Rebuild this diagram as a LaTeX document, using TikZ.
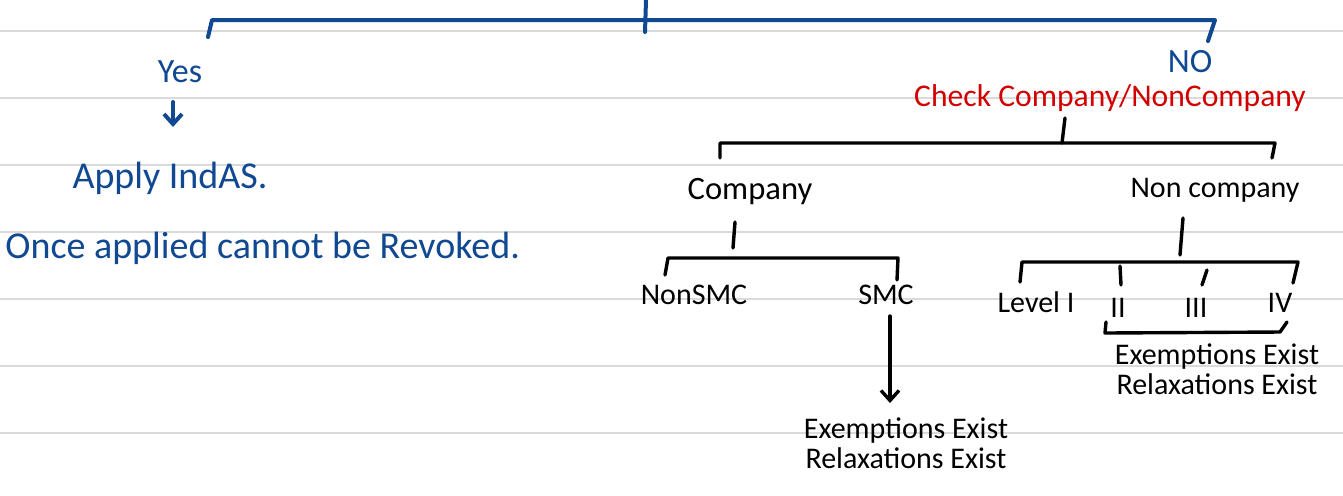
\documentclass[tikz,border=0pt]{standalone}
\usepackage{fontspec}
\setmainfont{Carlito}
\usetikzlibrary{arrows.meta}
\definecolor{inkblue}{RGB}{16,72,145}
\definecolor{inkred}{RGB}{210,0,0}
\definecolor{rulegray}{RGB}{218,218,218}
\begin{document}
\begin{tikzpicture}[x=0.5pt,y=-0.5pt,
  bluepen/.style={draw=inkblue,line width=2pt,line cap=round,line join=round},
  blackpen/.style={draw=black,line width=1.7pt,line cap=round,line join=round},
  bluetxt/.style={text=inkblue,inner sep=0pt,font=\fontsize{17}{19}\selectfont},
  bigblue/.style={text=inkblue,inner sep=0pt,font=\fontsize{19}{21}\selectfont},
  blacktxt/.style={text=black,inner sep=0pt,font=\fontsize{15}{17}\selectfont},
  redtxt/.style={text=inkred,inner sep=0pt,font=\fontsize{15.8}{18}\selectfont},
  smalltxt/.style={text=black,inner sep=0pt,font=\fontsize{15}{15}\selectfont,align=center},
  tip/.style={-{Straight Barb[length=5pt,width=9pt]}}]
\useasboundingbox (0,0) rectangle (1343,495);
\fill[white] (0,0) rectangle (1343,495);
\foreach \y in {31,98,165,232,299,366,433}
  \draw[rulegray,line width=0.7pt] (0,\y) -- (1343,\y);

% top blue bracket
\coordinate (topmid) at (646,0);
\coordinate (tl) at (212,20);
\coordinate (tr) at (1215,20);
\draw[bluepen] (208,37) -- (tl) -- (tr) -- (1208,41);
\draw[bluepen] (topmid) -- (645,32);

% Yes branch
\node[bluetxt] (yes) at (180,72) {Yes};
\node[bigblue] (apply) at (170,178) {Apply IndAS.};
\node[bigblue,anchor=west] (once) at (5,248) {Once applied cannot be Revoked.};
\draw[bluepen,tip] (173,102) -- (173,127);

% No branch
\node[bluetxt] (no) at (1190,62) {NO};
\node[redtxt] (check) at (1110,98) {Check Company/NonCompany};

% company bracket
\coordinate (cstem) at (1065,118);
\draw[blackpen] (cstem) -- (1062,143);
\draw[blackpen] (720,158) -- (720,143) -- (1275,143) -- (1272,158);

\node[blacktxt,font=\fontsize{16.3}{18}\selectfont] (company) at (750,192) {Company};
\node[blacktxt] (noncompany) at (1215,190) {Non company};

% company split
\draw[blackpen] (735,222) -- (733,248);
\draw[blackpen] (665,275) -- (668,258) -- (898,258) -- (897,280);
\node[blacktxt] (nonsmc) at (694,295) {NonSMC};
\node[blacktxt] (smc) at (886,295) {SMC};
\draw[blackpen,tip] (890,316) -- (890,403);
\node[smalltxt] (ex1) at (906,443) {Exemptions Exist\\Relaxations Exist};

% non company split
\draw[blackpen] (1183,218) -- (1180,255);
\draw[blackpen] (1020,282) -- (1022,262) -- (1298,262) -- (1293,283);
\draw[blackpen] (1120,266) -- (1121,285);
\draw[blackpen] (1207,270) -- (1202,285);
\node[blacktxt] (l1) at (1036,302) {Level I};
\node[blacktxt] (l2) at (1118,308) {II};
\node[blacktxt] (l3) at (1196,308) {III};
\node[blacktxt] (l4) at (1280,303) {IV};
\draw[blackpen] (1106,322) -- (1105,333) -- (1280,332) -- (1287,322);
\node[smalltxt] (ex2) at (1217,369) {Exemptions Exist\\Relaxations Exist};
\end{tikzpicture}
\end{document}
